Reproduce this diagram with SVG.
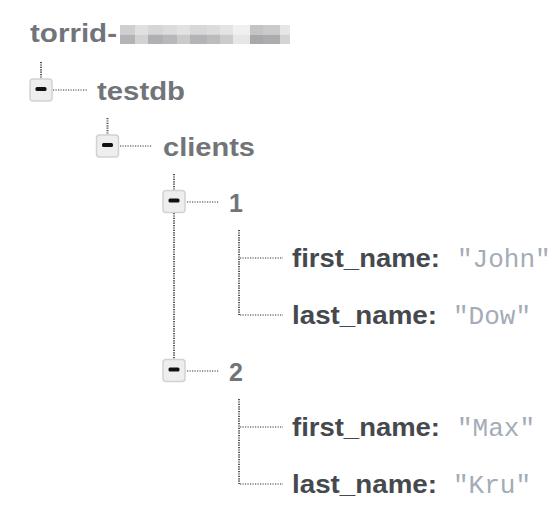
<svg xmlns="http://www.w3.org/2000/svg" width="558" height="518" viewBox="0 0 558 518">
<style>
.bg{fill:#ffffff}
.node{font-family:"Liberation Sans",Arial,sans-serif;font-weight:bold;font-size:25px;fill:#717479}
.key{font-family:"Liberation Sans",Arial,sans-serif;font-weight:bold;font-size:25px;fill:#45494e}
.val{font-family:"Liberation Mono","Courier New",monospace;font-size:26px;fill:#a3acb7}
.box{fill:#eeeeee;stroke:#d2d2d2;stroke-width:1.5}
.minus{fill:#111111}
.v{stroke:#555555;stroke-width:2;stroke-dasharray:1.2 1.2;fill:none}
.h{stroke:#777777;stroke-width:1.5;stroke-dasharray:1.2 1.3;fill:none}
</style>
<rect class="bg" x="0" y="0" width="558" height="518"/>
<g id="connectors">
  <line class="v" x1="41" y1="62" x2="41" y2="79"/>
  <line class="h" x1="53" y1="90" x2="87" y2="90"/>
  <line class="v" x1="107.5" y1="118" x2="107.5" y2="135"/>
  <line class="h" x1="120" y1="146" x2="152" y2="146"/>
  <line class="v" x1="174" y1="174" x2="174" y2="190"/>
  <line class="v" x1="174" y1="213" x2="174" y2="360"/>
  <line class="h" x1="187" y1="202" x2="219" y2="202"/>
  <line class="h" x1="187" y1="371" x2="219" y2="371"/>
  <line class="v" x1="239" y1="230" x2="239" y2="315"/>
  <line class="h" x1="240" y1="258" x2="283" y2="258"/>
  <line class="h" x1="240" y1="315" x2="283" y2="315"/>
  <line class="v" x1="239" y1="399" x2="239" y2="484"/>
  <line class="h" x1="240" y1="427" x2="283" y2="427"/>
  <line class="h" x1="240" y1="484" x2="283" y2="484"/>
</g>
<g id="root">
  <text class="node" x="30" y="42" textLength="87" lengthAdjust="spacingAndGlyphs">torrid-</text>
  <g id="redacted">
    <rect x="120" y="25" width="15" height="9.5" fill="#cfcfd1"/>
    <rect x="135" y="25" width="13" height="9.5" fill="#e0e0e0"/>
    <rect x="148" y="25" width="15" height="9.5" fill="#d6d6d8"/>
    <rect x="163" y="25" width="14" height="9.5" fill="#dcdcdc"/>
    <rect x="177" y="25" width="13" height="9.5" fill="#e2e2e2"/>
    <rect x="190" y="25" width="17" height="9.5" fill="#d8d8d8"/>
    <rect x="207" y="25" width="13" height="9.5" fill="#dcdcdc"/>
    <rect x="220" y="25" width="13" height="9.5" fill="#e4e4e4"/>
    <rect x="233" y="25" width="17" height="9.5" fill="#f0f0f0"/>
    <rect x="250" y="25" width="13" height="9.5" fill="#c4c4c6"/>
    <rect x="263" y="25" width="17" height="9.5" fill="#cacaca"/>
    <rect x="280" y="25" width="10" height="9.5" fill="#e6e6e6"/>
    <rect x="120" y="34.5" width="15" height="9.5" fill="#b4b4b7"/>
    <rect x="135" y="34.5" width="13" height="9.5" fill="#d2d2d2"/>
    <rect x="148" y="34.5" width="15" height="9.5" fill="#b0b0b3"/>
    <rect x="163" y="34.5" width="14" height="9.5" fill="#b8b8ba"/>
    <rect x="177" y="34.5" width="13" height="9.5" fill="#cacaca"/>
    <rect x="190" y="34.5" width="17" height="9.5" fill="#b4b4b6"/>
    <rect x="207" y="34.5" width="13" height="9.5" fill="#bcbcbe"/>
    <rect x="220" y="34.5" width="13" height="9.5" fill="#cbcbcb"/>
    <rect x="233" y="34.5" width="17" height="9.5" fill="#e6e6e6"/>
    <rect x="250" y="34.5" width="13" height="9.5" fill="#a8a8ab"/>
    <rect x="263" y="34.5" width="17" height="9.5" fill="#acacaf"/>
    <rect x="280" y="34.5" width="10" height="9.5" fill="#d4d4d4"/>
  </g>
</g>
<g id="testdb">
  <rect class="box" x="30" y="79" width="22" height="22" rx="3"/>
  <rect class="minus" x="35.5" y="87" width="11" height="4" rx="1.5"/>
  <text class="node" x="97" y="100" textLength="88" lengthAdjust="spacingAndGlyphs">testdb</text>
</g>
<g id="clients">
  <rect class="box" x="96.5" y="135" width="22" height="22" rx="3"/>
  <rect class="minus" x="102" y="143" width="11" height="4" rx="1.5"/>
  <text class="node" x="163" y="156" textLength="92" lengthAdjust="spacingAndGlyphs">clients</text>
</g>
<g id="client-1">
  <rect class="box" x="163" y="190.5" width="22" height="22" rx="3"/>
  <rect class="minus" x="168.5" y="198.5" width="11" height="4" rx="1.5"/>
  <text class="node" x="229" y="212">1</text>
</g>
<g id="client-1-first_name">
  <text x="292" y="267"><tspan class="key" textLength="148" lengthAdjust="spacingAndGlyphs">first_name:</tspan><tspan class="val" x="457">"John"</tspan></text>
</g>
<g id="client-1-last_name">
  <text x="292" y="324"><tspan class="key" textLength="145" lengthAdjust="spacingAndGlyphs">last_name:</tspan><tspan class="val" x="453">"Dow"</tspan></text>
</g>
<g id="client-2">
  <rect class="box" x="163" y="359.5" width="22" height="22" rx="3"/>
  <rect class="minus" x="168.5" y="367.5" width="11" height="4" rx="1.5"/>
  <text class="node" x="229" y="381">2</text>
</g>
<g id="client-2-first_name">
  <text x="292" y="436"><tspan class="key" textLength="148" lengthAdjust="spacingAndGlyphs">first_name:</tspan><tspan class="val" x="457">"Max"</tspan></text>
</g>
<g id="client-2-last_name">
  <text x="292" y="493"><tspan class="key" textLength="145" lengthAdjust="spacingAndGlyphs">last_name:</tspan><tspan class="val" x="453">"Kru"</tspan></text>
</g>
</svg>
